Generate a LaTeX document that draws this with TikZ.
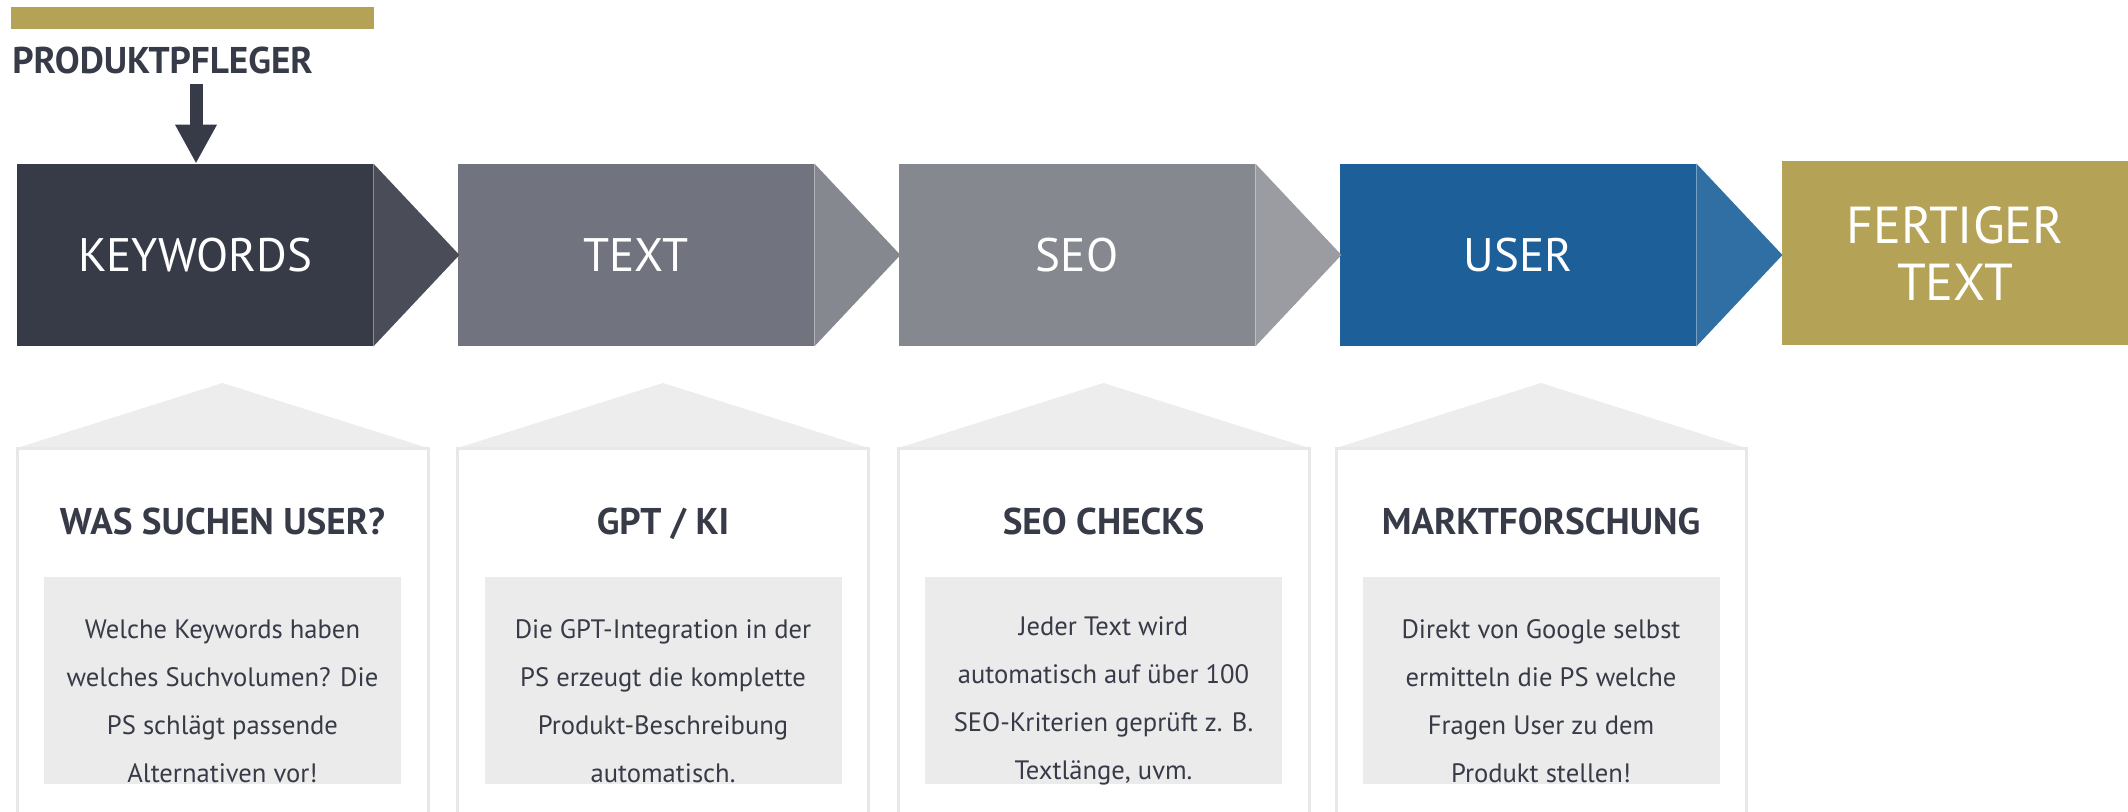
\documentclass[tikz,border=0pt]{standalone}
\usepackage{fontspec}
\setmainfont{PT Sans}
\usetikzlibrary{arrows.meta, calc, positioning}
\definecolor{keyNavy}{HTML}{373A47}
\definecolor{keyNavyTip}{HTML}{4A4C58}
\definecolor{textGrey}{HTML}{71747E}
\definecolor{textGreyTip}{HTML}{85888F}
\definecolor{seoGrey}{HTML}{85888F}
\definecolor{seoGreyTip}{HTML}{9B9CA1}
\definecolor{userBlue}{HTML}{1C5F99}
\definecolor{userBlueTip}{HTML}{306FA3}
\definecolor{doneGold}{HTML}{B4A256}
\definecolor{panelLine}{HTML}{E8E8E8}
\definecolor{roofGrey}{HTML}{EDEDED}
\definecolor{noteGrey}{HTML}{EBEBEB}
\definecolor{inkDark}{HTML}{373A47}

\begin{document}
\begin{tikzpicture}[
  x=0.5pt, y=-0.5pt,
  stage/.style={
    rectangle, fill=#1, minimum width=178pt, minimum height=91pt,
    inner sep=0pt, text=white, font=\fontsize{23.5}{28}\selectfont,
  },
  chevron/.style={fill=#1},
  roof/.style={fill=roofGrey},
  frame/.style={draw=panelLine, line width=1.5pt},
  head/.style={font=\bfseries\fontsize{18.6}{22}\selectfont, text=inkDark, inner sep=0pt, anchor=base},
  note/.style={rectangle, fill=noteGrey, minimum width=178.5pt, minimum height=103.5pt, inner sep=0pt},
  notetext/.style={align=center, text=inkDark, font=\fontsize{13.3}{24}\selectfont, inner sep=0pt},
  push/.style={-{Triangle[width=19.5pt,length=19.5pt]}, draw=inkDark, line width=6.5pt},
]
\useasboundingbox (0,0) rectangle (2128,812);

% owner on top
\fill[doneGold] (11,7) rectangle (374,29);
\node[head, anchor=base west] (owner) at (12,74) {PRODUKTPFLEGER};

% process chain
\node[stage=keyNavy]  at (195,255)  (keywords) {KEYWORDS};
\node[stage=textGrey] at (636,255)  (text)     {TEXT};
\node[stage=seoGrey]  at (1077,255) (seo)      {SEO};
\node[stage=userBlue] at (1518,255) (user)     {USER};
\node[stage=doneGold, minimum width=173pt, minimum height=92pt, align=center,
      font=\fontsize{26}{28.5}\selectfont] at (1955,253) (done) {FERTIGER\\TEXT};

\fill[chevron=keyNavyTip]  (keywords.north east) -- ($(keywords.east)+(86,0)$) -- (keywords.south east) -- cycle;
\fill[chevron=textGreyTip] (text.north east) -- ($(text.east)+(86,0)$) -- (text.south east) -- cycle;
\fill[chevron=seoGreyTip]  (seo.north east) -- ($(seo.east)+(86,0)$) -- (seo.south east) -- cycle;
\fill[chevron=userBlueTip] (user.north east) -- ($(user.east)+(86,0)$) -- (user.south east) -- cycle;

\coordinate (pin) at (196,84);
\draw[push] (pin) -- (pin |- keywords.north);

% panels below
\fill[roof] (17,448) -- (222.5,383) -- (428,448) -- cycle;
\draw[frame] (17,812) -- (17,448) -- (428,448) -- (428,812);
\fill[roof] (457.5,448) -- (663,383) -- (868.5,448) -- cycle;
\draw[frame] (457.5,812) -- (457.5,448) -- (868.5,448) -- (868.5,812);
\fill[roof] (898,448) -- (1103.5,383) -- (1309,448) -- cycle;
\draw[frame] (898,812) -- (898,448) -- (1309,448) -- (1309,812);
\fill[roof] (1336,448) -- (1541,383) -- (1746,448) -- cycle;
\draw[frame] (1336,812) -- (1336,448) -- (1746,448) -- (1746,812);

\node[head] at (222.5,534)  (kwhead)   {WAS SUCHEN USER?};
\node[head] at (663,534)    (gpthead)  {GPT / KI};
\node[head] at (1103.5,534) (seohead)  {SEO CHECKS};
\node[head] at (1541,534)   (userhead) {MARKTFORSCHUNG};

\node[note] at (222.5,680.5)  (kwnote)   {};
\node[note] at (663,680.5)    (gptnote)  {};
\node[note] at (1103.5,680.5) (seonote)  {};
\node[note] at (1541,680.5)   (usernote) {};

\node[notetext] at ($(kwnote.center)+(0,20.5)$) (kwtext)
  {Welche Keywords haben\\welches Suchvolumen? Die\\PS schlägt passende\\Alternativen vor!};
\node[notetext] at ($(gptnote.center)+(0,20.5)$) (gpttext)
  {Die GPT-Integration in der\\PS erzeugt die komplette\\Produkt-Beschreibung\\automatisch.};
\node[notetext] at ($(seonote.center)+(0,20.5)$) (seotext)
  {Jeder Text wird\\automatisch auf über 100\\SEO-Kriterien geprüft z. B.\\Textlänge, uvm.};
\node[notetext] at ($(usernote.center)+(0,20.5)$) (usertext)
  {Direkt von Google selbst\\ermitteln die PS welche\\Fragen User zu dem\\Produkt stellen!};

\end{tikzpicture}
\end{document}
